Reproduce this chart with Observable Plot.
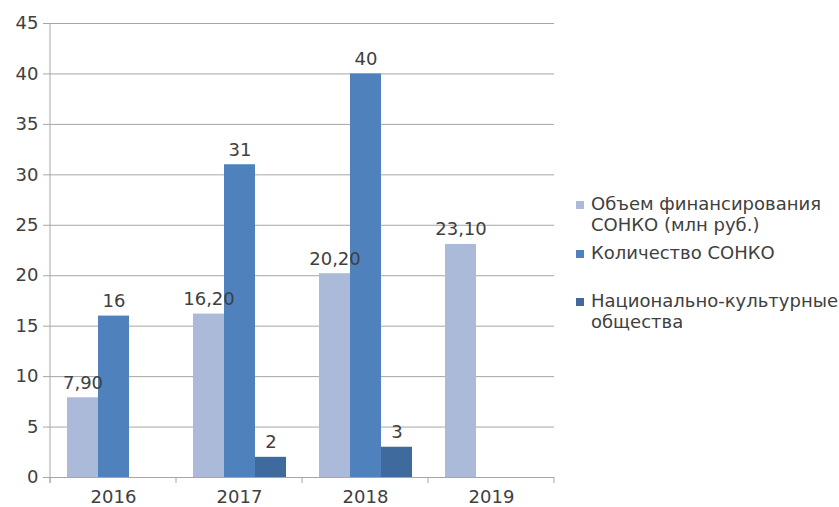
<!DOCTYPE html>
<html>
<head>
<meta charset="utf-8">
<script src="https://cdn.jsdelivr.net/npm/d3@7"></script>
<script src="https://cdn.jsdelivr.net/npm/@observablehq/plot@0.6"></script>
<style>
  html, body { margin: 0; padding: 0; background: #fff; }
  #wrap { position: relative; width: 839px; height: 507px; overflow: hidden; font-family: "DejaVu Sans", sans-serif; color: #404040; }
  #wrap svg { position: absolute; left: 0; top: 0; }
  .leg { position: absolute; left: 576px; font-size: 18px; line-height: 21px; color: #404040; white-space: nowrap; }
  .leg .sw { position: absolute; left: 0; top: 8px; width: 8px; height: 8px; }
  .leg .tx { position: absolute; left: 15px; top: 0; }
</style>
</head>
<body>
<div id="wrap"></div>
<script>
const years = ["2016", "2017", "2018", "2019"];
const seriesNames = ["Объем финансирования СОНКО (млн руб.)", "Количество СОНКО", "Национально-культурные общества"];
const legendLines = [["Объем финансирования", "СОНКО (млн руб.)"], ["Количество СОНКО"], ["Национально-культурные", "общества"]];
const funding = [7.9, 16.2, 20.2, 23.1];
const countSonko = [16, 31, 40, null];
const national = [null, 2, 3, null];
const yTicks = [0, 5, 10, 15, 20, 25, 30, 35, 40, 45];
const colors = ["#abbad8", "#4f81bd", "#3f6a9e"];

const valuesBySeries = [funding, countSonko, national];
const data = [];
years.forEach((yr, i) => {
  valuesBySeries.forEach((vals, s) => {
    if (vals[i] != null) data.push({year: yr, series: seriesNames[s], sIndex: s, value: vals[i]});
  });
});
const fmt = d => d.sIndex === 0 ? d.value.toFixed(2).replace(".", ",") : String(d.value);

const font = '"DejaVu Sans", sans-serif';
const chart = Plot.plot({
  width: 839,
  height: 507,
  marginLeft: 50,
  marginRight: 285,
  marginTop: 23,
  marginBottom: 30,
  style: {fontFamily: font, fontSize: "18px", color: "#404040", background: "#fff"},
  facet: {data, x: "year", marginBottom: 30},
  fx: {domain: years, padding: 0, label: null, tickSize: 0, tickPadding: 13},
  x: {domain: seriesNames, paddingInner: 0, paddingOuter: 0.47, axis: null},
  y: {domain: [0, 45], ticks: yTicks, tickSize: 7, tickPadding: 5, label: null, tickFormat: d => String(d)},
  color: {domain: seriesNames, range: colors},
  marks: [
    Plot.ruleY(yTicks, {stroke: "#a6a6a6", strokeWidth: 1}),
    Plot.barY(data, {x: "series", y: "value", fill: "series"}),
    Plot.text(data, {x: "series", y: "value", text: fmt, lineAnchor: "bottom", dy: -9, fill: "#404040", fontSize: 18})
  ]
});

document.getElementById("wrap").appendChild(chart);

// y axis line and category separator ticks using the chart's own scales
const fxS = chart.scale("fx");
const yS = chart.scale("y");
const svg = d3.select(chart);
const y0 = yS.apply(0), yTop = yS.apply(45);
const bounds = years.map(y => fxS.apply(y)).concat([fxS.apply(years[years.length - 1]) + fxS.bandwidth]);
svg.append("line").attr("x1", bounds[0]).attr("x2", bounds[0]).attr("y1", yTop).attr("y2", y0 + 6)
  .attr("stroke", "#a6a6a6");
bounds.forEach(b => {
  svg.append("line").attr("x1", b).attr("x2", b).attr("y1", y0).attr("y2", y0 + 6).attr("stroke", "#a6a6a6");
});
svg.selectAll("[aria-label='y-axis'] line, [aria-label='y-axis tick'] path, g[aria-label^='y-axis'] line").attr("stroke", "#a6a6a6");

// legend
const wrap = document.getElementById("wrap");
const legTops = [193, 242, 290];
legendLines.forEach((lines, i) => {
  const div = document.createElement("div");
  div.className = "leg";
  div.style.top = legTops[i] + "px";
  div.innerHTML = `<span class="sw" style="background:${colors[i]}"></span><span class="tx">${lines.join("<br>")}</span>`;
  wrap.appendChild(div);
});
</script>
</body>
</html>
